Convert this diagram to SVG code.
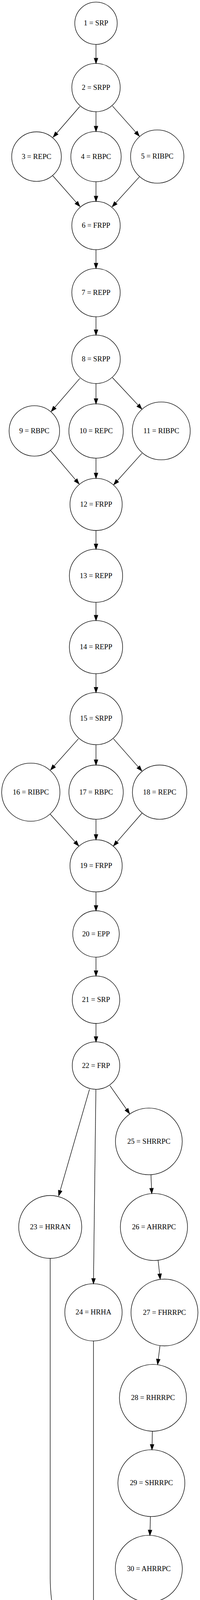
<svg xmlns="http://www.w3.org/2000/svg" width="511" height="4691" viewBox="0 0 511 4691">
<style>
.n circle{fill:none;stroke:#000;stroke-width:1.33}
.n text{font-family:"Liberation Serif","Times New Roman",serif;font-size:18.67px;text-anchor:middle;fill:#000}
.e path{fill:none;stroke:#000;stroke-width:1.33;marker-end:url(#arr)}
</style>
<defs>
<marker id="arr" markerUnits="userSpaceOnUse" markerWidth="16" markerHeight="12" refX="13.33" refY="4.67" orient="auto" overflow="visible">
<path d="M0,0 L13.33,4.67 L0,9.33 Z" fill="#000" stroke="#000" stroke-width="1.33"/>
</marker>
</defs>
<rect width="511" height="4691" fill="#fff"/>
<g id="edges" class="e">
<path d="M245.3,113.6 L245.3,162.4"/>
<path d="M204,272.5 L136,351"/>
<path d="M245.3,285.9 L245.3,336.6"/>
<path d="M287.3,271.4 L356,348.6"/>
<path d="M135,450 L204,528.6"/>
<path d="M245.3,465.2 L245.3,515.5"/>
<path d="M356,452.9 L286.7,529.3"/>
<path d="M245.3,639.1 L245.3,687.3"/>
<path d="M245.3,810.9 L245.3,857.8"/>
<path d="M204,968.6 L131,1053.2"/>
<path d="M245.3,981.8 L245.3,1033.9"/>
<path d="M287.3,966.8 L362.3,1047.1"/>
<path d="M129.3,1153.2 L202,1238.9"/>
<path d="M245.3,1172.9 L245.3,1224.6"/>
<path d="M362.7,1160.4 L290.7,1240.7"/>
<path d="M245.3,1358 L245.3,1405.9"/>
<path d="M245.3,1541.9 L245.3,1588.6"/>
<path d="M245.3,1724.6 L245.3,1772.9"/>
<path d="M200.3,1891.4 L129.3,1971"/>
<path d="M245.3,1906.3 L245.3,1958.5"/>
<path d="M290,1891.4 L362.3,1973.6"/>
<path d="M128.3,2084.3 L201,2165.4"/>
<path d="M245.3,2097.3 L245.3,2149.8"/>
<path d="M362.7,2081.8 L290,2165.4"/>
<path d="M245.3,2283.2 L245.3,2331.5"/>
<path d="M245.3,2450.3 L245.3,2498.6"/>
<path d="M245.3,2620 L245.3,2667.2"/>
<path d="M228.7,2788.6 L150,3061"/>
<path d="M245,2788.8 L238.8,3286.4"/>
<path d="M281,2779.3 L331,2851"/>
<path d="M385.7,3007.2 L387.7,3055.4"/>
<path d="M404,3226.8 L409.3,3274.6"/>
<path d="M408.7,3445.4 L402.7,3492.9"/>
<path d="M389.3,3663.9 L388.3,3711.3"/>
<path d="M384.3,3882.2 L383,3930.5"/>
<path d="M374,4101.5 L371.7,4149.4"/>
<path d="M128.3,3221.5 L128.3,4040 C128.3,4150 170,4260 214.3,4371.7"/>
<path d="M238.8,3432.8 L238.8,4367.5"/>
<path d="M318.3,4307 L272.7,4376"/>
<path d="M238.8,4486.5 L238.8,4535.2"/>
</g>
<g id="n1" class="n"><circle cx="245.3" cy="59.5" r="54.2"/><text x="245.3" y="65.1">1 = SRP</text></g>
<g id="n2" class="n"><circle cx="245.3" cy="224.1" r="61.8"/><text x="245.3" y="229.7">2 = SRPP</text></g>
<g id="n3" class="n"><circle cx="93.3" cy="400.9" r="63.4"/><text x="93.3" y="406.5">3 = REPC</text></g>
<g id="n4" class="n"><circle cx="245.3" cy="400.9" r="64.3"/><text x="245.3" y="406.5">4 = RBPC</text></g>
<g id="n5" class="n"><circle cx="401.7" cy="400.8" r="68.1"/><text x="401.7" y="406.4">5 = RIBPC</text></g>
<g id="n6" class="n"><circle cx="245.3" cy="577.3" r="61.8"/><text x="245.3" y="582.9">6 = FRPP</text></g>
<g id="n7" class="n"><circle cx="245.3" cy="749.1" r="61.8"/><text x="245.3" y="754.7">7 = REPP</text></g>
<g id="n8" class="n"><circle cx="245.3" cy="919.8" r="62"/><text x="245.3" y="925.4">8 = SRPP</text></g>
<g id="n9" class="n"><circle cx="87.8" cy="1103.2" r="64.5"/><text x="87.8" y="1108.8">9 = RBPC</text></g>
<g id="n10" class="n"><circle cx="245.5" cy="1103.4" r="69.5"/><text x="245.5" y="1109">10 = REPC</text></g>
<g id="n11" class="n"><circle cx="412" cy="1103.2" r="74"/><text x="412" y="1108.8">11 = RIBPC</text></g>
<g id="n12" class="n"><circle cx="245.5" cy="1291.3" r="66.7"/><text x="245.5" y="1296.9">12 = FRPP</text></g>
<g id="n13" class="n"><circle cx="245.3" cy="1473.9" r="68"/><text x="245.3" y="1479.5">13 = REPP</text></g>
<g id="n14" class="n"><circle cx="245.3" cy="1656.6" r="68"/><text x="245.3" y="1662.2">14 = REPP</text></g>
<g id="n15" class="n"><circle cx="245.5" cy="1839.6" r="66.7"/><text x="245.5" y="1845.2">15 = SRPP</text></g>
<g id="n16" class="n"><circle cx="78.7" cy="2028" r="74.4"/><text x="78.7" y="2033.6">16 = RIBPC</text></g>
<g id="n17" class="n"><circle cx="245.5" cy="2027.9" r="69.4"/><text x="245.5" y="2033.5">17 = RBPC</text></g>
<g id="n18" class="n"><circle cx="407.8" cy="2027.9" r="69.4"/><text x="407.8" y="2033.5">18 = REPC</text></g>
<g id="n19" class="n"><circle cx="245.5" cy="2216.5" r="66.7"/><text x="245.5" y="2222.1">19 = FRPP</text></g>
<g id="n20" class="n"><circle cx="245.3" cy="2390.9" r="59.4"/><text x="245.3" y="2396.5">20 = EPP</text></g>
<g id="n21" class="n"><circle cx="245.3" cy="2559.3" r="60.7"/><text x="245.3" y="2564.9">21 = SRP</text></g>
<g id="n22" class="n"><circle cx="245.3" cy="2727.9" r="60.7"/><text x="245.3" y="2733.5">22 = FRP</text></g>
<g id="n23" class="n"><circle cx="128.3" cy="3141" r="80.5"/><text x="128.3" y="3146.6">23 = HRRAN</text></g>
<g id="n24" class="n"><circle cx="238.8" cy="3359.6" r="73.2"/><text x="238.8" y="3365.2">24 = HRHA</text></g>
<g id="n25" class="n"><circle cx="380.3" cy="2922" r="85.3"/><text x="380.3" y="2927.6">25 = SHRRPC</text></g>
<g id="n26" class="n"><circle cx="393.3" cy="3141.1" r="85.8"/><text x="393.3" y="3146.7">26 = AHRRPC</text></g>
<g id="n27" class="n"><circle cx="420.2" cy="3360" r="85.5"/><text x="420.2" y="3365.6">27 = FHRRPC</text></g>
<g id="n28" class="n"><circle cx="390.8" cy="3578.4" r="85.6"/><text x="390.8" y="3584">28 = RHRRPC</text></g>
<g id="n29" class="n"><circle cx="386.8" cy="3796.8" r="85.5"/><text x="386.8" y="3802.4">29 = SHRRPC</text></g>
<g id="n30" class="n"><circle cx="380.2" cy="4016" r="85.6"/><text x="380.2" y="4021.6">30 = AHRRPC</text></g>
<g id="n31" class="n"><circle cx="365.5" cy="4234.5" r="85.2"/><text x="365.5" y="4240.1">31 = FHRRPC</text></g>
<g id="n32" class="n"><circle cx="238.8" cy="4427" r="59.5"/><text x="238.8" y="4432.6">32 = EPP</text></g>
<g id="n33" class="n"><circle cx="238.8" cy="4610.7" r="75.5"/><text x="238.8" y="4616.3">33 = SLRRP</text></g>
</svg>
